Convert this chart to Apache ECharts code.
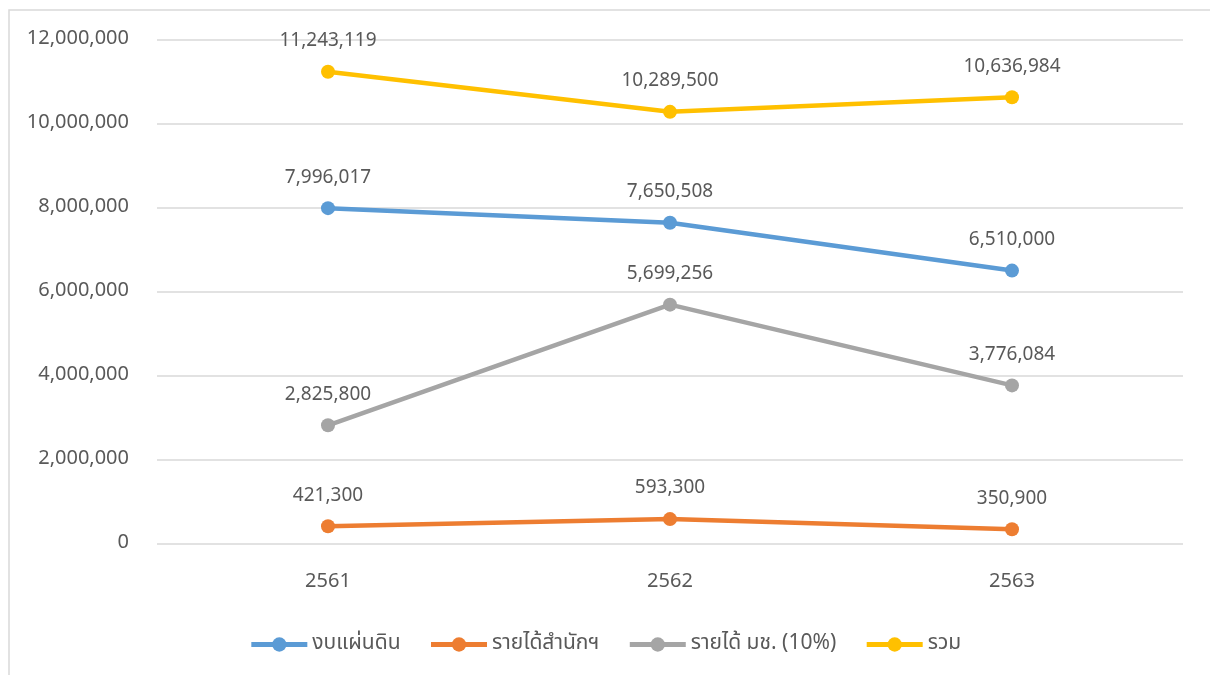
<!DOCTYPE html>
<html><head><meta charset="utf-8">
<script src="https://cdn.jsdelivr.net/npm/echarts@6/dist/echarts.min.js"></script>
<style>html,body{margin:0;padding:0;background:#fff}#c{width:1210px;height:675px}</style>
</head><body><div id="c"></div>
<script>
const categories = ['2561', '2562', '2563'];
const seriesNames = ['งบแผ่นดิน', 'รายได้สำนักฯ', 'รายได้ มช. (10%)', 'รวม'];
const budget = [7996017, 7650508, 6510000];
const officeIncome = [421300, 593300, 350900];
const cmuIncome = [2825800, 5699256, 3776084];
const total = [11243119, 10289500, 10636984];
const colors = ['#5b9bd5', '#ed7d31', '#a5a5a5', '#ffc000'];
const FONT = '"Noto Sans Thai", "Noto Sans", "DejaVu Sans", sans-serif';

const chart = echarts.init(document.getElementById('c'));
const fmt = v => v.toLocaleString('en-US');
function mk(name, data, color) {
  return {
    name, type: 'line', data, color,
    symbol: 'circle', symbolSize: 14,
    lineStyle: { width: 4.5, color },
    itemStyle: { color },
    label: { show: true, position: 'top', distance: 13, color: '#595959', fontSize: 19, fontFamily: FONT,
      formatter: p => fmt(p.value) },
    emphasis: { disabled: true },
    animation: false
  };
}
chart.setOption({
  animation: false,
  graphic: [{ type: 'rect', shape: { x: 9, y: 10, width: 1300, height: 800 }, style: { fill: 'none', stroke: '#d9d9d9', lineWidth: 1.5 }, z: -1 }],
  grid: { left: 157, right: 27, top: 40, bottom: 131, containLabel: false },
  legend: {
    bottom: 15, left: 'center', itemWidth: 56, itemHeight: 18, itemGap: 28,
    lineStyle: { width: 5 },
    textStyle: { color: '#595959', fontSize: 21, fontFamily: FONT },
    data: seriesNames
  },
  xAxis: {
    type: 'category', data: categories, boundaryGap: true,
    axisLine: { show: false }, axisTick: { show: false },
    axisLabel: { color: '#595959', fontSize: 20, fontFamily: FONT, margin: 29 }
  },
  yAxis: {
    type: 'value', min: 0, max: 12000000, interval: 2000000,
    axisLine: { show: false }, axisTick: { show: false },
    splitLine: { lineStyle: { color: '#d9d9d9', width: 1.5 } },
    axisLabel: { color: '#595959', fontSize: 20, fontFamily: FONT, margin: 28, formatter: v => fmt(v), padding: [4, 0, 0, 0] }
  },
  series: [
    mk(seriesNames[0], budget, colors[0]),
    mk(seriesNames[1], officeIncome, colors[1]),
    mk(seriesNames[2], cmuIncome, colors[2]),
    mk(seriesNames[3], total, colors[3])
  ]
});
</script></body></html>
